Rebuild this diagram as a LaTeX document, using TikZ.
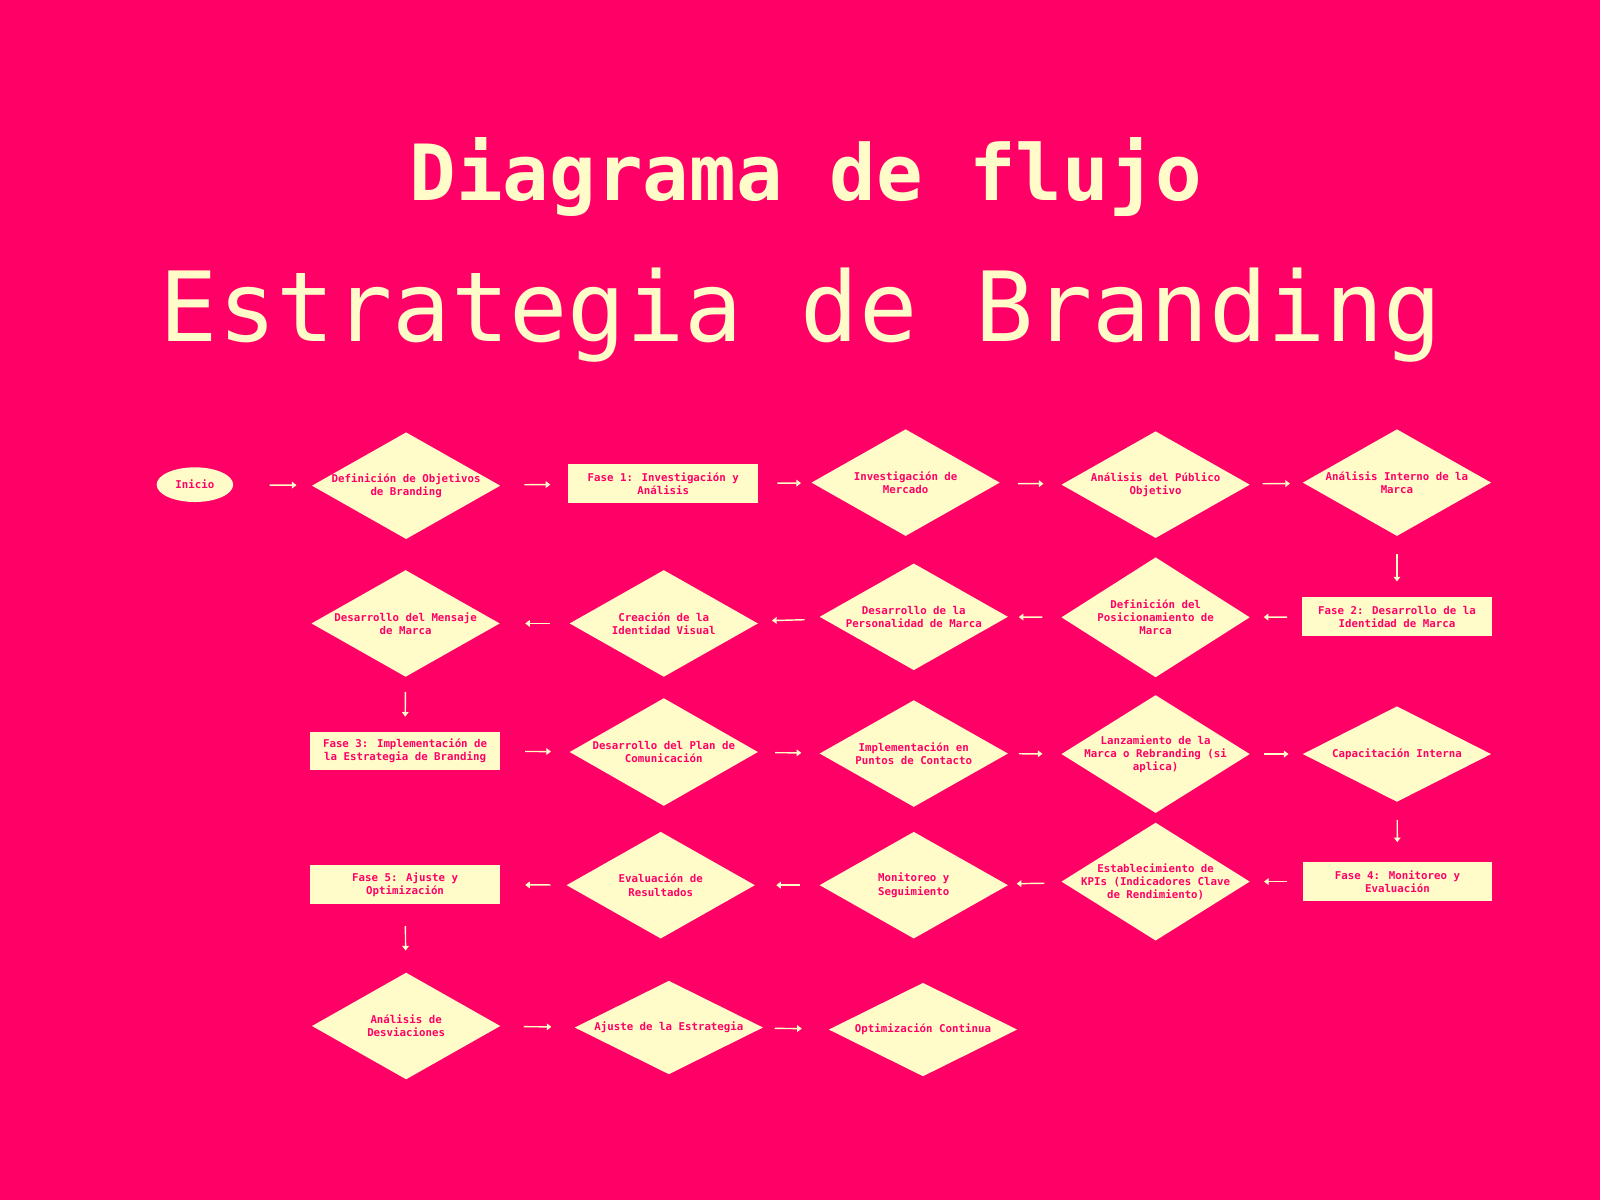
\documentclass[tikz,border=0pt]{standalone}
\usepackage{fontspec}
\usepackage{xcolor}
\usepackage{tikz}
\usetikzlibrary{arrows,arrows.meta,shapes.geometric}

\newfontfamily\monofont{DejaVu Sans Mono}
\definecolor{rosa}{HTML}{FF0066}
\definecolor{crema}{HTML}{FFFCC9}

\tikzset{
  texto/.style={text=rosa, align=center, font=\monofont\bfseries\fontsize{3}{3.7}\selectfont},
  rombo/.style={diamond, fill=crema, minimum width=1.85cm, minimum height=1.05cm, inner sep=0pt},
  caja/.style={rectangle, fill=crema, minimum width=1.86cm, minimum height=0.38cm, inner sep=0pt, texto},
  elipse/.style={ellipse, fill=crema, minimum width=0.75cm, minimum height=0.34cm, inner sep=0pt, texto},
  flecha/.style={-{Triangle[length=0.045cm,width=0.065cm]}, draw=crema, line width=0.4pt},
}

\begin{document}
\begin{tikzpicture}
    % background
    \fill[rosa] (0,0) rectangle (15.68,11.76);
    \useasboundingbox (0,0) rectangle (15.68,11.76);

    % titles
    \node[anchor=base, text=crema, font=\monofont\bfseries\fontsize{21.6}{24}\selectfont] (titulo) at (7.90,9.79) {Diagrama de flujo};
    \node[anchor=base, text=crema, font=\monofont\fontsize{27}{30}\selectfont] (subtitulo) at (7.85,8.41) {Estrategia de Branding};

    % Fase 1
    \node[elipse] (inicio) at (1.91,7.01) {Inicio};
    \node[rombo, label={[texto]center:Definición de Objetivos\\de Branding}] (defobj) at (3.98,7.00) {};
    \node[caja] (fase1) at (6.50,7.02) {Fase 1: Investigación y\\Análisis};
    \node[rombo, label={[texto]center:Investigación de\\Mercado}] (invmer) at (8.875,7.03) {};
    \node[rombo, label={[texto]center:Análisis del Público\\Objetivo}] (anpub) at (11.325,7.01) {};
    \node[rombo, label={[texto]center:Análisis Interno de la\\Marca}] (anint) at (13.69,7.03) {};

    % Fase 2
    \node[caja] (fase2) at (13.69,5.715) {Fase 2: Desarrollo de la\\Identidad de Marca};
    \node[rombo, minimum height=1.18cm, label={[texto]center:Definición del\\Posicionamiento de\\Marca}] (posic) at (11.325,5.71) {};
    \node[rombo, label={[texto]center:Desarrollo de la\\Personalidad de Marca}] (person) at (8.955,5.715) {};
    \node[rombo, label={[texto]center:Creación de la\\Identidad Visual}] (creac) at (6.505,5.65) {};
    \node[rombo, label={[texto]center:Desarrollo del Mensaje\\de Marca}] (mensaje) at (3.975,5.65) {};

    % Fase 3
    \node[caja] (fase3) at (3.97,4.40) {Fase 3: Implementación de\\la Estrategia de Branding};
    \node[rombo, minimum height=1.06cm, label={[texto]center:Desarrollo del Plan de\\Comunicación}] (plan) at (6.505,4.39) {};
    \node[rombo, label={[texto]center:Implementación en\\Puntos de Contacto}] (impl) at (8.955,4.375) {};
    \node[rombo, minimum height=1.16cm, label={[texto]center:Lanzamiento de la\\Marca o Rebranding (si\\aplica)}] (lanz) at (11.325,4.37) {};
    \node[rombo, minimum height=0.94cm, label={[texto]center:Capacitación Interna}] (capac) at (13.69,4.37) {};

    % Fase 4
    \node[caja] (fase4) at (13.695,3.12) {Fase 4: Monitoreo y\\Evaluación};
    \node[rombo, minimum height=1.16cm, label={[texto]center:Establecimiento de\\KPIs (Indicadores Clave\\de Rendimiento)}] (kpis) at (11.325,3.12) {};
    \node[rombo, label={[texto]center:Monitoreo y\\Seguimiento}] (monit) at (8.955,3.085) {};
    \node[rombo, label={[texto]center:Evaluación de\\Resultados}] (eval) at (6.475,3.085) {};
    \node[caja] (fase5) at (3.97,3.09) {Fase 5: Ajuste y\\Optimización};

    % Fase 5
    \node[rombo, label={[texto]center:Análisis de\\Desviaciones}] (andesv) at (3.98,1.705) {};
    \node[rombo, minimum height=0.92cm, label={[texto]center:Ajuste de la Estrategia}] (ajuste) at (6.555,1.69) {};
    \node[rombo, minimum height=0.92cm, label={[texto]center:Optimización Continua}] (optcont) at (9.045,1.67) {};

    % arrows
    \draw[flecha, shorten <=0.35cm, shorten >=0.15cm] (inicio) -- (defobj);
    \draw[flecha, shorten <=0.24cm, shorten >=0.17cm] (defobj) -- (fase1);
    \draw[flecha, shorten <=0.18cm, shorten >=0.10cm] (fase1) -- (invmer);
    \draw[flecha, shorten <=0.18cm, shorten >=0.18cm] (invmer) -- (anpub);
    \draw[flecha, shorten <=0.13cm, shorten >=0.13cm] (anpub) -- (anint);
    \draw[flecha, shorten <=0.17cm, shorten >=0.15cm] (anint) -- (fase2);

    \draw[flecha, shorten <=0.14cm, shorten >=0.13cm] (fase2) -- (posic);
    \draw[flecha, shorten <=0.18cm, shorten >=0.10cm] (posic) -- (person);
    \draw[flecha, shorten <=0.18cm, shorten >=0.17cm] (person) -- (creac);
    \draw[flecha, shorten <=0.18cm, shorten >=0.24cm] (creac) -- (mensaje);
    \draw[flecha, shorten <=0.14cm, shorten >=0.14cm] (mensaje) -- (fase3);

    \draw[flecha, shorten <=0.24cm, shorten >=0.18cm] (fase3) -- (plan);
    \draw[flecha, shorten <=0.17cm, shorten >=0.18cm] (plan) -- (impl);
    \draw[flecha, shorten <=0.10cm, shorten >=0.18cm] (impl) -- (lanz);
    \draw[flecha, shorten <=0.13cm, shorten >=0.13cm] (lanz) -- (capac);
    \draw[flecha, shorten <=0.17cm, shorten >=0.19cm] (capac) -- (fase4);

    \draw[flecha, shorten <=0.15cm, shorten >=0.13cm] (fase4) -- (kpis);
    \draw[flecha, shorten <=0.18cm, shorten >=0.10cm] (kpis) -- (monit);
    \draw[flecha, shorten <=0.18cm, shorten >=0.20cm] (monit) -- (eval);
    \draw[flecha, shorten <=0.15cm, shorten >=0.24cm] (eval) -- (fase5);
    \draw[flecha, shorten <=0.21cm, shorten >=0.21cm] (fase5) -- (andesv);

    \draw[flecha, shorten <=0.23cm, shorten >=0.23cm] (andesv) -- (ajuste);
    \draw[flecha, shorten <=0.12cm, shorten >=0.27cm] (ajuste) -- (optcont);
\end{tikzpicture}
\end{document}
